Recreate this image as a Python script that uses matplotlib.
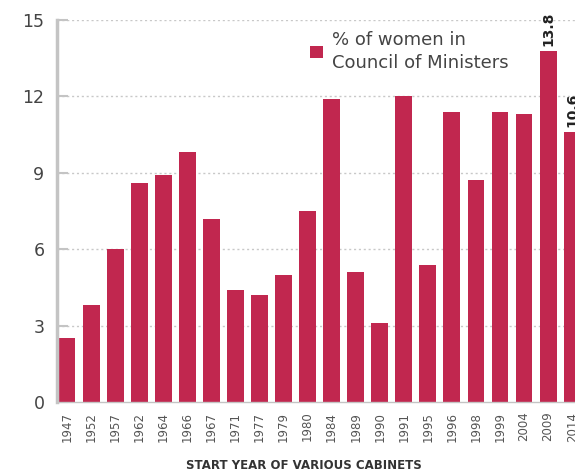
import numpy as np
import matplotlib.pyplot as plt

years = ['1947', '1952', '1957', '1962', '1964', '1966', '1967', '1971', '1977', '1979',
         '1980', '1984', '1989', '1990', '1991', '1995', '1996', '1998', '1999', '2004',
         '2009', '2014']
pct = [2.5, 3.8, 6.0, 8.6, 8.9, 9.8, 7.2, 4.4, 4.2, 5.0,
       7.5, 11.9, 5.1, 3.1, 12.0, 5.4, 11.4, 8.7, 11.4, 11.3,
       13.8, 10.6]
labelled = ['2009', '2014']

red = '#c1274f'
grey = '#c4c4c4'

fig = plt.figure(figsize=(5.75, 4.75), dpi=100)
ax = fig.add_axes([0.099, 0.1537, 0.917, 0.804])

x = np.arange(len(years))
ax.bar(x, pct, width=0.7, color=red, label='% of women in\nCouncil of Ministers', zorder=2)

for i, y in enumerate(years):
    if y in labelled:
        ax.text(x[i], pct[i] + 0.2, f'{pct[i]:.1f}', rotation=90, ha='center', va='bottom',
                fontsize=10, fontweight='bold', color='#222222')

ax.set_xlim(-0.42, 21.5)
ax.set_ylim(0, 15)
ax.set_yticks([0, 3, 6, 9, 12, 15])
ax.set_xticks(x)
ax.set_xticklabels(years, rotation=90, fontsize=8.5, color='#555555')
ax.tick_params(axis='x', length=0, pad=7)
ax.tick_params(axis='y', direction='in', length=8, width=1.5, color=grey, labelsize=12.5,
               labelcolor='#444444', pad=9)

for v in [3, 6, 9, 12, 15]:
    ax.axhline(v, color='#c8c8c8', lw=1, ls=(0, (1.5, 2)), zorder=1)

for s in ['top', 'right']:
    ax.spines[s].set_visible(False)
ax.spines['left'].set_color(grey)
ax.spines['left'].set_linewidth(2.5)
ax.spines['bottom'].set_color(grey)
ax.spines['bottom'].set_linewidth(1)

ax.set_xlabel('START YEAR OF VARIOUS CABINETS', fontsize=8.5, fontweight='bold', color='#333333')
ax.xaxis.set_label_coords(0.469, -0.15)

leg = ax.legend(loc='upper left', bbox_to_anchor=(0.45, 1.015), frameon=False, fontsize=13,
                handlelength=0.7, handleheight=0.7, handletextpad=0.5,
                labelcolor='#444444')
for t in leg.get_texts():
    t.set_linespacing(1.4)

plt.savefig('out.png', dpi=100)
